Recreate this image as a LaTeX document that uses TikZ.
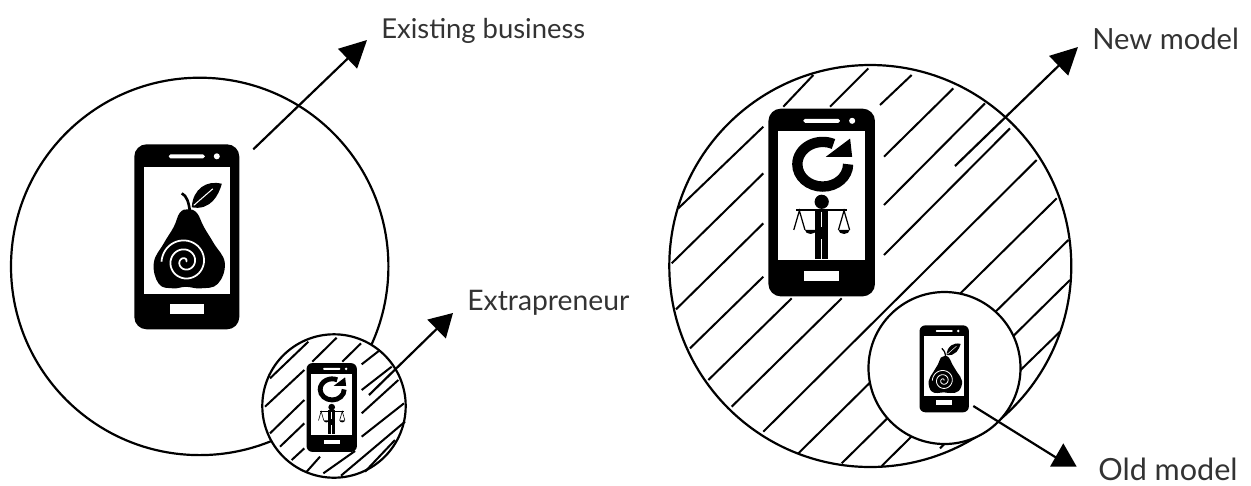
\documentclass[tikz,border=0pt]{standalone}
\usepackage{fontspec}
\setmainfont{Lato}
\usetikzlibrary{arrows.meta}
\usetikzlibrary{calc}
\definecolor{label grey}{HTML}{333333}
\tikzset{>={Triangle[length=0.54cm,width=0.54cm]}}
\tikzset{
    outline/.style={draw=black, line width=1.25pt},
    bubble/.style={outline, fill=white},
    hatch line/.style={black, line width=1.15pt},
    pointer/.style={->, black, line width=1.25pt},
    caption/.style={label grey, font=\fontsize{#1}{20}\selectfont, inner sep=0pt, anchor=base west},
}
\newcommand{\phonebody}[1]{
    \fill[black, rounded corners=#1*7pt] (-52.5, -92.5) rectangle (52.5, 92.5);
    \fill[white] (-43, -57) rectangle (43, 70);
    \fill[white, rounded corners=#1*1pt] (-18, 78.5) rectangle (18, 82.5);
    \fill[white] (30, 80.5) circle [radius=3];
    \fill[white] (-17, -77) rectangle (17, -67);
}
\tikzset{
    pics/pear phone/.style={code={
        \begin{scope}[scale=#1, yscale=-1]
            \phonebody{#1}
            \fill[black] plot [smooth cycle, tension=0.7] coordinates {(1, 27.5) (-7, 24) (-13, 10) (-23, -6.5) (-33, -26) (-28, -47) (-14, -51.5) (-1, -50) (14, -51.5) (31, -47) (38, -26) (27, -6.5) (17, 10) (10, 24)};
            \draw[black, line width=#1*1.5pt] (-5, 43.5) .. controls (0, 41) and (2, 34) .. (3, 26);
            \fill[black] (5, 29.5) .. controls (6, 48) and (20, 57) .. (35, 53) .. controls (32, 42) and (24, 26) .. cycle;
            \draw[white, line width=#1*0.6pt] (7, 31.5) -- (26, 48);
            \draw[white, line width=#1*1pt] plot [domain=0:900, samples=120, smooth] ({-1.8 + (1 + \x / 40) * cos(\x)}, {-24.9 + (1 + \x / 40) * sin(\x)});
        \end{scope}
    }},
    pics/judge phone/.style={code={
        \begin{scope}[scale=#1, yscale=-1]
            \phonebody{#1}
            % reload sign
            \draw[black, line width=#1*5.8pt] (26, 37.7) arc [start angle=0, end angle=-295, x radius=25, y radius=22];
            \fill[black] (28, 63) -- (30, 45) -- (4, 45) -- cycle;
            % man with the scales
            \fill[black] (0, 0.7) circle [radius=7];
            \fill[black] (-25, -8.3) rectangle (25, -6.7);
            \fill[black] (-7, -6) rectangle (6, -56);
            \draw[white, line width=#1*0.5pt] (-0.5, -9) -- (-0.5, -24);
            \draw[white, line width=#1*0.3pt] (-0.5, -36) -- (-0.5, -56);
            \foreach \side in {-1, 1} {
                \draw[black, line width=#1*0.7pt] (\side * 16.5, -27) -- (\side * 22, -8) -- (\side * 27.5, -27);
                \fill[black] (\side * 16.5, -27) arc [start angle=180, end angle=360, x radius=5.5, y radius=4] -- cycle;
            }
        \end{scope}
    }},
}
\begin{document}
\begin{tikzpicture}[x=0.02cm, y=-0.02cm]
    \useasboundingbox (0, 0) rectangle (1251, 485);

    % left group
    \draw[outline] (199.7, 266.4) circle [radius=188.7];
    \draw[bubble] (334, 406) circle [radius=71.7];
    \begin{scope}[shift={(255, 325)}, scale=1/3]
        \foreach \a/\b/\c/\d in {45/160/160/50, 30/245/148/135, 172/110/245/38, 45/325/148/225, 262/110/318/55, 75/365/148/295, 320/118/375/75, 110/405/148/370, 320/195/410/125, 155/440/195/395, 320/265/430/165, 320/335/447/235, 205/445/300/378, 258/452/450/290, 330/440/420/345} {
            \draw[hatch line] (\a, \b) -- (\c, \d);
        }
    \end{scope}
    \pic at (186.8, 236.8) {pear phone=1};
    \pic at (331.7, 407.5) {judge phone=0.48};

    % right group
    \draw[outline] (870.3, 266) circle [radius=201];
    \begin{scope}[shift={(660, 60)}, scale=1/3]
        \foreach \a/\b/\c/\d in {55/445/310/200, 370/140/460/45, 35/610/310/340, 510/140/625/25, 48/748/310/490, 660/135/755/45, 90/865/310/650, 672/290/880/85, 145/960/395/715, 672/435/975/130, 215/1040/545/715, 672/585/1050/205, 310/1115/1130/300, 415/1180/1190/415, 545/1210/1225/540, 665/1218/1230/660, 840/1165/1200/815} {
            \draw[hatch line] (\a, \b) -- (\c, \d);
        }
    \end{scope}
    \draw[bubble] (944.5, 368) circle [radius=76];
    \pic at (821.7, 202.5) {judge phone=1.015};
    \pic at (944.2, 368.8) {pear phone=0.47};

    % labels and pointers
    \node[caption=15.6] (existing) at (381, 38) {Existing business};
    \node[caption=16.1] (extrapreneur) at (467, 310) {Extrapreneur};
    \node[caption=16.6] (new model) at (1092, 49) {New model};
    \node[caption=17.4] (old model) at (1098, 480) {Old model};

    \coordinate (existing from) at (253.3, 149.3);
    \coordinate (existing to) at (367, 40);
    \coordinate (extrapreneur from) at (369, 395);
    \coordinate (extrapreneur to) at (453, 313);
    \coordinate (new from) at (955, 166);
    \coordinate (new to) at (1078, 47);
    \coordinate (old from) at (973.3, 406);
    \coordinate (old to) at (1060, 460);
    \coordinate (old apex) at (1063.3, 443.3);

    \draw[pointer] (existing from) -- (existing to);
    \draw[pointer, >={Triangle[length=0.46cm,width=0.52cm]}] (extrapreneur from) -- (extrapreneur to);
    \draw[pointer] (new from) -- (new to);
    \draw[outline] (old from) -- (old to);
    \fill[black] (old apex) -- ++(-13.3, 23.4) -- ++(26.7, 0) -- cycle;
\end{tikzpicture}
\end{document}
